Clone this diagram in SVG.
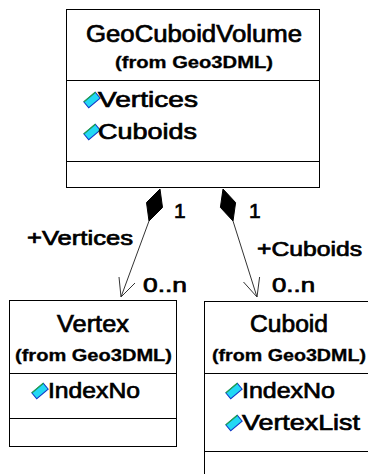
<svg xmlns="http://www.w3.org/2000/svg" width="368" height="474" viewBox="0 0 368 474">
<style>
.box{fill:#fff;stroke:#000;stroke-width:1}
.div{stroke:#000;stroke-width:1}
text{font-family:"Liberation Sans",Arial,sans-serif;fill:#000;stroke:#000;stroke-width:0.7}
.name{font-size:23px}
.from{font-size:16px;font-weight:bold;stroke-width:0.3}
.attr{font-size:22px}
.lbl{font-size:20px}
.mult{font-size:21px}
.conn{stroke:#333;stroke-width:1;fill:none}
.dia{fill:#000;stroke:#000;stroke-width:1}
</style>
<defs>
<g id="icon">
<rect x="-7.5" y="-3.8" width="15" height="7.6" fill="#22d8f4" stroke="#1238c8" stroke-width="1"/>
<line x1="-7.5" y1="-3.8" x2="7.5" y2="-3.8" stroke="#22b040" stroke-width="1.2"/>
</g>
</defs>
<rect width="368" height="474" fill="#fff"/>
<g id="connectors">
<polygon class="dia" points="160,189 162.5,207.5 149,221 146.5,202.5"/>
<line class="conn" x1="149" y1="221" x2="121" y2="297"/>
<polyline class="conn" points="119,277 121,297 135,283"/>
<polygon class="dia" points="223,189 235.6,202.6 233,221 220.4,207.4"/>
<line class="conn" x1="233" y1="221" x2="257" y2="297"/>
<polyline class="conn" points="243.5,282 257,297 259.6,277"/>
<text class="mult" x="174" y="218">1</text>
<text class="mult" x="249" y="218">1</text>
<text class="lbl" x="27" y="245" textLength="106" lengthAdjust="spacingAndGlyphs">+Vertices</text>
<text class="lbl" x="257" y="256" textLength="105" lengthAdjust="spacingAndGlyphs">+Cuboids</text>
<text class="lbl" x="143" y="292" textLength="44" lengthAdjust="spacingAndGlyphs">0..n</text>
<text class="lbl" x="272" y="292" textLength="43" lengthAdjust="spacingAndGlyphs">0..n</text>
</g>
<g id="GeoCuboidVolume">
<rect class="box" x="66.5" y="9.5" width="253" height="178"/>
<text class="name" x="194" y="42" text-anchor="middle" textLength="216" lengthAdjust="spacingAndGlyphs">GeoCuboidVolume</text>
<text class="from" x="194" y="68" text-anchor="middle" textLength="158" lengthAdjust="spacingAndGlyphs">(from Geo3DML)</text>
<line class="div" x1="66" y1="80.5" x2="320" y2="80.5"/>
<use href="#icon" transform="translate(92,100) rotate(-40)"/>
<text class="attr" x="98" y="107" textLength="100" lengthAdjust="spacingAndGlyphs">Vertices</text>
<use href="#icon" transform="translate(92,132) rotate(-40)"/>
<text class="attr" x="98" y="139" textLength="99" lengthAdjust="spacingAndGlyphs">Cuboids</text>
<line class="div" x1="66" y1="161.5" x2="320" y2="161.5"/>
</g>
<g id="Vertex">
<rect class="box" x="9.5" y="300.5" width="167" height="146"/>
<text class="name" x="93" y="332" text-anchor="middle" textLength="72" lengthAdjust="spacingAndGlyphs">Vertex</text>
<text class="from" x="93.5" y="361" text-anchor="middle" textLength="157" lengthAdjust="spacingAndGlyphs">(from Geo3DML)</text>
<line class="div" x1="9" y1="373.5" x2="177" y2="373.5"/>
<use href="#icon" transform="translate(40,391) rotate(-40)"/>
<text class="attr" x="48" y="398" textLength="92" lengthAdjust="spacingAndGlyphs">IndexNo</text>
<line class="div" x1="9" y1="418.5" x2="177" y2="418.5"/>
</g>
<g id="Cuboid">
<rect class="box" x="204.5" y="301.5" width="170" height="180"/>
<text class="name" x="289" y="332" text-anchor="middle" textLength="78" lengthAdjust="spacingAndGlyphs">Cuboid</text>
<text class="from" x="289" y="361" text-anchor="middle" textLength="154" lengthAdjust="spacingAndGlyphs">(from Geo3DML)</text>
<line class="div" x1="204" y1="373.5" x2="368" y2="373.5"/>
<use href="#icon" transform="translate(234,391) rotate(-40)"/>
<text class="attr" x="242" y="398" textLength="93" lengthAdjust="spacingAndGlyphs">IndexNo</text>
<use href="#icon" transform="translate(234,423) rotate(-40)"/>
<text class="attr" x="242" y="430" textLength="118" lengthAdjust="spacingAndGlyphs">VertexList</text>
<line class="div" x1="204" y1="451.5" x2="368" y2="451.5"/>
</g>
</svg>
